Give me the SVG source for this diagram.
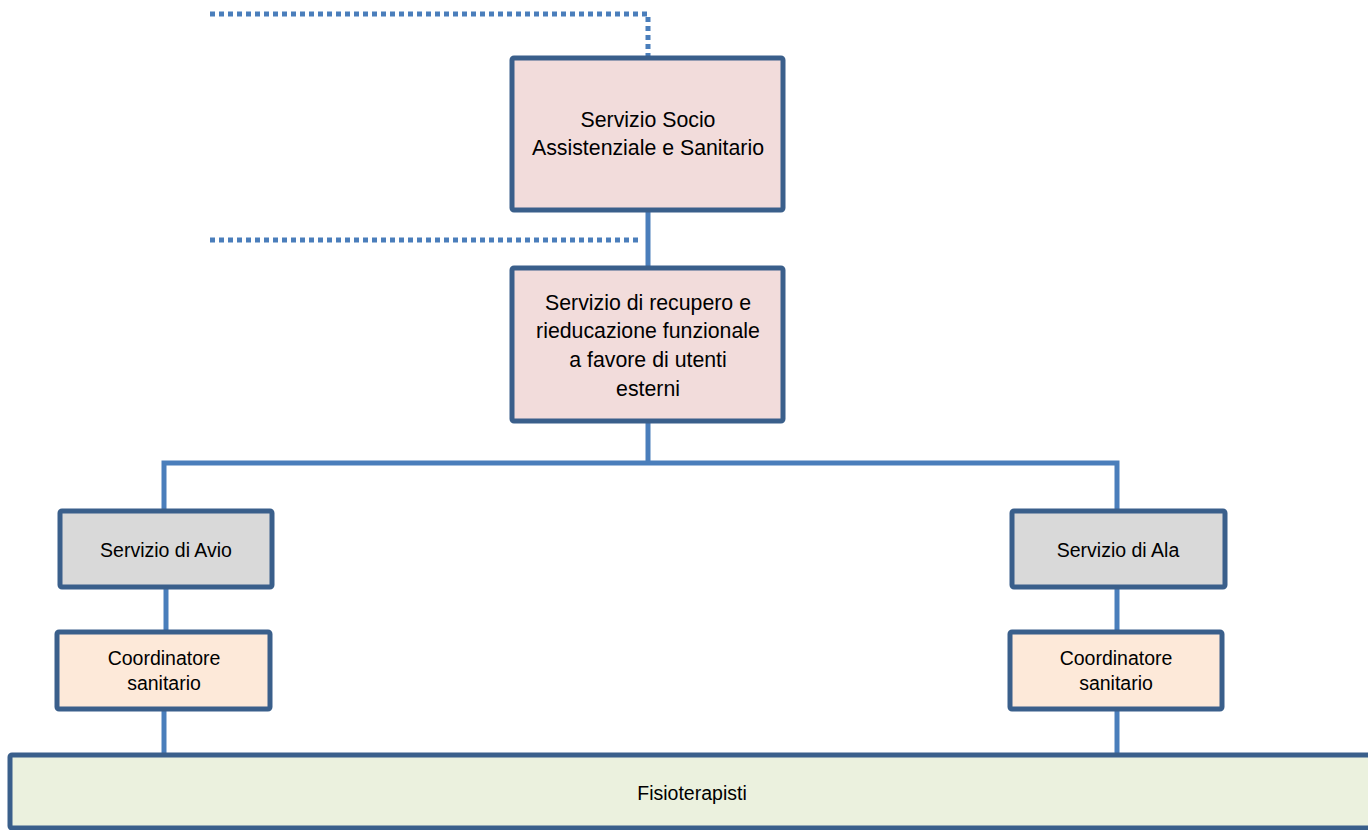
<svg xmlns="http://www.w3.org/2000/svg" width="1368" height="830" viewBox="0 0 1368 830">
<style>
.box{stroke:#3a5f8b;stroke-width:5;}
.pink{fill:#f2dcdb;}
.gray{fill:#d9d9d9;}
.peach{fill:#fde9d9;}
.green{fill:#ebf1de;}
.t{font-family:"Liberation Sans",Arial,sans-serif;fill:#000;text-anchor:middle;font-size:19.5px;}
.big{font-size:21.3px;}
.c{stroke:#4a7ebb;stroke-width:5;fill:none;}
.d{stroke:#4a7ebb;stroke-width:5;fill:none;stroke-dasharray:5 4;}
</style>
<g id="connectors">
<polyline class="d" points="210,14 648,14 648,58"/>
<line class="d" x1="210" y1="240" x2="642" y2="240"/>
<line class="c" x1="648" y1="210" x2="648" y2="268"/>
<line class="c" x1="648" y1="421" x2="648" y2="463"/>
<polyline class="c" points="164,511 164,463 1117,463 1117,511"/>
<line class="c" x1="166" y1="587" x2="166" y2="632"/>
<line class="c" x1="164" y1="709" x2="164" y2="755"/>
<line class="c" x1="1117" y1="587" x2="1117" y2="632"/>
<line class="c" x1="1117" y1="709" x2="1117" y2="755"/>
</g>
<g id="n1">
<rect class="box pink" x="512" y="58" width="271" height="152" rx="2"/>
<text class="t big" x="648" y="127">Servizio Socio</text>
<text class="t big" x="648" y="155">Assistenziale e Sanitario</text>
</g>
<g id="n2">
<rect class="box pink" x="512" y="268" width="271" height="153" rx="2"/>
<text class="t big" x="648" y="310">Servizio di recupero e</text>
<text class="t big" x="648" y="338">rieducazione funzionale</text>
<text class="t big" x="648" y="367">a favore di utenti</text>
<text class="t big" x="648" y="396">esterni</text>
</g>
<g id="n3">
<rect class="box gray" x="60" y="511" width="212" height="76" rx="2"/>
<text class="t" x="166" y="557">Servizio di Avio</text>
</g>
<g id="n4">
<rect class="box gray" x="1012" y="511" width="213" height="76" rx="2"/>
<text class="t" x="1118" y="557">Servizio di Ala</text>
</g>
<g id="n5">
<rect class="box peach" x="57" y="632" width="213" height="77" rx="2"/>
<text class="t" x="164" y="665">Coordinatore</text>
<text class="t" x="164" y="690">sanitario</text>
</g>
<g id="n6">
<rect class="box peach" x="1010" y="632" width="212" height="77" rx="2"/>
<text class="t" x="1116" y="665">Coordinatore</text>
<text class="t" x="1116" y="690">sanitario</text>
</g>
<g id="n7">
<rect class="box green" x="10" y="755" width="1365" height="73" rx="2"/>
<text class="t" x="692" y="800">Fisioterapisti</text>
</g>
</svg>
